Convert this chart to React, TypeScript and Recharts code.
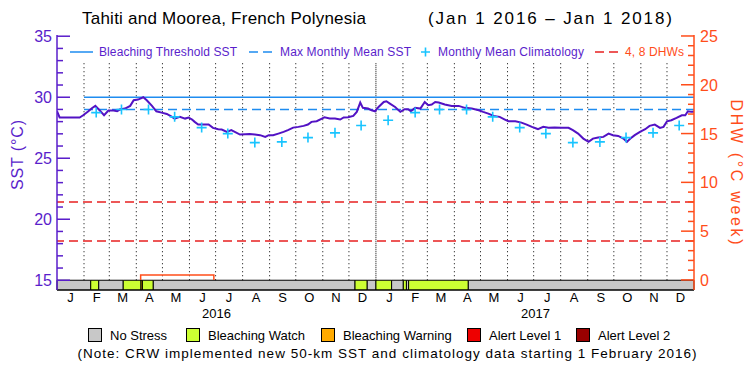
import React from 'react';
import {
  ComposedChart,
  Line,
  Scatter,
  XAxis,
  YAxis,
  ReferenceLine,
  ReferenceArea
} from 'recharts';

const FONT = '"Liberation Sans", Arial, sans-serif';
const PURPLE = '#5A1ECB';
const ORANGE = '#FF4D1A';
const SST_COLOR = '#5212C4';
const BLUE = '#1E8CF0';
const CYAN = '#18C4FF';
const RED = '#E82020';

// days since Jan 1 2016
const MONTH_LETTERS = ['J', 'F', 'M', 'A', 'M', 'J', 'J', 'A', 'S', 'O', 'N', 'D'];
const MONTH_STARTS = [
  0, 31, 60, 91, 121, 152, 182, 213, 244, 274, 305, 335,
  366, 397, 425, 456, 486, 517, 547, 578, 609, 639, 670, 700
];
const END_DAY = 731;
const YEAR_LABELS = ['2016', '2017'];
const YEAR_MIDS = [183, 549];

const SST_DAYS = [
  0, 3, 26, 30, 36, 40, 44, 48, 54, 59, 65, 69, 72, 78, 84, 88, 93, 99, 103, 109,
  114, 120, 126, 132, 135, 141, 147, 151, 155, 158, 162, 174, 179, 185, 189, 195, 200, 204, 210, 216,
  221, 227, 233, 239, 243, 248, 254, 260, 265, 271, 277, 283, 288, 292, 298, 304, 307, 313, 319, 325,
  329, 334, 340, 344, 348, 351, 357, 361, 365, 369, 375, 378, 382, 388, 394, 399, 403, 406, 411, 417,
  422, 426, 430, 434, 438, 445, 453, 461, 468, 476, 484, 489, 495, 501, 508, 514, 518, 526, 533, 539,
  545, 550, 552, 558, 564, 571, 579, 587, 592, 598, 604, 610, 615, 621, 627, 633, 638, 644, 650, 654,
  658, 663, 669, 675, 680, 686, 692, 696, 700, 705, 711, 717, 721, 724, 728, 731
];
const SST_VALUES = [
  28.85, 28.34, 28.34, 28.52, 28.85, 29.1, 29.29, 29.0, 28.52, 28.91, 28.91, 28.85, 28.99, 29.07, 29.29, 29.75, 29.81, 30.0, 29.75, 29.29,
  28.85, 28.74, 28.63, 28.39, 28.25, 28.39, 28.25, 28.34, 28.17, 27.98, 27.76, 27.76, 27.49, 27.38, 27.35, 27.16, 27.3, 27.16, 26.94, 26.97,
  26.99, 26.94, 26.89, 26.75, 26.89, 26.89, 27.02, 27.16, 27.3, 27.51, 27.57, 27.65, 27.76, 27.98, 28.03, 28.25, 28.36, 28.25, 28.25, 28.17,
  28.34, 28.36, 28.47, 28.8, 29.56, 29.13, 29.07, 28.93, 28.85, 29.2, 29.61, 29.67, 29.48, 29.2, 28.8, 29.02, 29.02, 28.85, 29.13, 29.07,
  29.61, 29.34, 29.4, 29.61, 29.56, 29.4, 29.29, 29.29, 29.13, 29.07, 28.93, 28.8, 28.66, 28.47, 28.39, 28.17, 28.03, 28.03, 27.92, 27.76,
  27.57, 27.44, 27.38, 27.57, 27.49, 27.51, 27.49, 27.49, 27.3, 27.02, 26.61, 26.34, 26.61, 26.69, 26.75, 27.02, 26.89, 26.83, 26.61, 26.34,
  26.61, 26.89, 27.16, 27.38, 27.65, 27.76, 27.49, 27.57, 28.03, 28.11, 28.3, 28.52, 28.52, 28.85, 28.8, 28.8
];

// monthly mean climatology, Jan..Dec
const CLIM_MONTHLY = [28.11, 28.74, 28.99, 28.99, 28.39, 27.51, 27.02, 26.28, 26.34, 26.69, 27.08, 27.68];
const MMM = 29.0;
const THRESHOLD = 30.0;
const DHW_LEVELS = [4, 8];
const DHW_DAYS = [96, 96, 180, 180];
const DHW_VALUES = [0, 0.5, 0.5, 0];

const STRESS_START = [0, 38.7, 47.9, 76, 96.4, 98, 110.5, 342, 356, 366, 384, 397.4, 401, 403.5, 472];
const STRESS_END = [38.7, 47.9, 76, 96.4, 98, 110.5, 342, 356, 366, 384, 397.4, 401, 403.5, 472, 731];
const STRESS_LEVEL = [0, 1, 0, 1, 2, 1, 0, 1, 0, 1, 0, 1, 0, 1, 0];
const STRESS_NAMES = ['No Stress', 'Bleaching Watch', 'Bleaching Warning', 'Alert Level 1', 'Alert Level 2'];
const STRESS_COLORS = ['#C8C8C8', '#CCFF33', '#FFAA00', '#EE0000', '#990000'];

const SST_TICKS = Array.from({ length: 21 }, (_, i) => 15 + i);
const DHW_TICKS = Array.from({ length: 26 }, (_, i) => i);

const sstData = SST_DAYS.map((day, i) => ({ day, sst: SST_VALUES[i] }));
const climData = MONTH_STARTS.slice(1).map((start, i) => ({ day: start + 14, clim: CLIM_MONTHLY[(i + 1) % 12] }));
const dhwData = DHW_DAYS.map((day, i) => ({ day, dhw: DHW_VALUES[i] }));
const monthMids = MONTH_STARTS.map((s, i) => (s + (MONTH_STARTS[i + 1] ?? END_DAY)) / 2);
const thresholdData = [{ day: MONTH_STARTS[1], v: THRESHOLD }, { day: END_DAY, v: THRESHOLD }];
const mmmData = [{ day: MONTH_STARTS[1], v: MMM }, { day: END_DAY, v: MMM }];

const LeftTick = (props: any) => {
  const { x, y, payload } = props;
  const major = payload.value % 5 === 0;
  return (
    <g>
      <line x1={x + 4} y1={y} x2={x + 4 + (major ? 13 : 6)} y2={y} stroke={PURPLE} strokeWidth={1.5} />
      {major && (
        <text x={x - 1} y={y} dy={6} textAnchor="end" fill={PURPLE} fontSize={16} fontFamily={FONT}>
          {payload.value}
        </text>
      )}
    </g>
  );
};

const RightTick = (props: any) => {
  const { x, y, payload } = props;
  const major = payload.value % 5 === 0;
  return (
    <g>
      <line x1={x - 4} y1={y} x2={x - 4 - (major ? 13 : 6)} y2={y} stroke={ORANGE} strokeWidth={1.5} />
      {major && (
        <text x={x + 2} y={y} dy={6} textAnchor="start" fill={ORANGE} fontSize={16} fontFamily={FONT}>
          {payload.value}
        </text>
      )}
    </g>
  );
};

const Cross = (props: any) => {
  const { cx, cy } = props;
  return <path d={`M${cx - 5},${cy}h10M${cx},${cy - 5}v10`} stroke={CYAN} strokeWidth={1.6} fill="none" />;
};

const Overlay = () => (
  <svg width={750} height={375} style={{ position: 'absolute', left: 0, top: 0, pointerEvents: 'none' }} fontFamily={FONT}>
    <text x={82} y={24} fontSize={17} textLength={284} fill="#000">Tahiti and Moorea, French Polynesia</text>
    <text x={428} y={24} fontSize={17} textLength={244} fill="#000">(Jan 1 2016 – Jan 1 2018)</text>

    <line x1={70} y1={52} x2={93} y2={52} stroke={BLUE} strokeWidth={1.5} />
    <text x={99} y={56} fontSize={12} fill={PURPLE} textLength={138}>Bleaching Threshold SST</text>
    <line x1={249} y1={52} x2={273} y2={52} stroke={BLUE} strokeWidth={1.5} strokeDasharray="9 5" />
    <text x={280} y={56} fontSize={12} fill={PURPLE} textLength={131}>Max Monthly Mean SST</text>
    <path d="M421,52h9M425.5,47.5v9" stroke={CYAN} strokeWidth={1.6} />
    <text x={438} y={56} fontSize={12} fill={PURPLE} textLength={146}>Monthly Mean Climatology</text>
    <line x1={595} y1={52} x2={619} y2={52} stroke={RED} strokeWidth={1.5} strokeDasharray="9 5" />
    <text x={625} y={56} fontSize={12} fill={ORANGE} textLength={59}>4, 8 DHWs</text>

    <text transform="translate(23,155) rotate(-90)" textAnchor="middle" fontSize={16} fill={PURPLE} textLength={70}>SST (°C)</text>
    <text transform="translate(731,172) rotate(90)" textAnchor="middle" fontSize={16} fill={ORANGE} textLength={145}>DHW (°C week)</text>

    {[88, 186, 321, 467, 576].map((bx, i) => (
      <g key={STRESS_NAMES[i]}>
        <rect x={bx + 0.5} y={328.5} width={13} height={13} fill={STRESS_COLORS[i]} stroke="#000" />
        <text x={bx + 22} y={340} fontSize={13} fill="#000">{STRESS_NAMES[i]}</text>
      </g>
    ))}
    <text x={387} y={358} fontSize={13.5} textAnchor="middle" textLength={619} fill="#000">
      (Note: CRW implemented new 50-km SST and climatology data starting 1 February 2016)
    </text>
  </svg>
);

export default function App() {
  return (
    <div style={{ position: 'absolute', left: 0, top: 0, width: 750, height: 375, background: '#fff' }}>
      <ComposedChart
        width={750}
        height={375}
        data={sstData}
        margin={{ top: 35, right: 16, bottom: 45, left: 17 }}
      >
        <XAxis
          dataKey="day"
          type="number"
          domain={[0, END_DAY]}
          allowDataOverflow
          ticks={monthMids}
          interval={0}
          tickFormatter={(v: number) => MONTH_LETTERS[monthMids.indexOf(v) % 12]}
          tickLine={false}
          tickSize={0}
          tickMargin={3}
          height={18}
          stroke="#000"
          tick={{ fill: '#000', fontSize: 13, fontFamily: FONT }}
        />
        <XAxis
          xAxisId="year"
          dataKey="day"
          type="number"
          domain={[0, END_DAY]}
          allowDataOverflow
          ticks={YEAR_MIDS}
          interval={0}
          tickFormatter={(v: number) => YEAR_LABELS[YEAR_MIDS.indexOf(v)]}
          axisLine={false}
          tickLine={false}
          tickSize={0}
          tickMargin={1}
          height={22}
          tick={{ fill: '#000', fontSize: 13, fontFamily: FONT }}
        />
        <XAxis
          xAxisId="top"
          orientation="top"
          dataKey="day"
          type="number"
          domain={[0, END_DAY]}
          allowDataOverflow
          height={0}
          tick={false}
          tickLine={false}
          stroke="#000"
        />
        <YAxis
          yAxisId="left"
          type="number"
          domain={[14.2, 35.1]}
          allowDataOverflow
          ticks={SST_TICKS}
          interval={0}
          width={40}
          stroke={PURPLE}
          strokeWidth={1.5}
          tickLine={false}
          tickSize={0}
          tickMargin={4}
          tick={<LeftTick />}
        />
        <YAxis
          yAxisId="right"
          orientation="right"
          type="number"
          domain={[-1.03, 25.1]}
          allowDataOverflow
          ticks={DHW_TICKS}
          interval={0}
          width={40}
          stroke={ORANGE}
          strokeWidth={1.5}
          tickLine={false}
          tickSize={0}
          tickMargin={4}
          tick={<RightTick />}
        />

        {MONTH_STARTS.slice(1).map((d) => (
          <ReferenceLine
            key={`m${d}`}
            yAxisId="left"
            segment={[{ x: d, y: 15 }, { x: d, y: 32.8 }]}
            stroke="#000"
            strokeDasharray={d === 366 ? '1 1' : '1 3'}
          />
        ))}
        {DHW_LEVELS.map((lv) => (
          <ReferenceLine key={`dhw${lv}`} yAxisId="right" y={lv} stroke={RED} strokeWidth={1.5} strokeDasharray="9 5" />
        ))}

        <Line yAxisId="left" data={thresholdData} dataKey="v" stroke={BLUE} strokeWidth={1.5} dot={false} isAnimationActive={false} />
        <Line yAxisId="left" data={mmmData} dataKey="v" stroke={BLUE} strokeWidth={1.5} strokeDasharray="9 5" dot={false} isAnimationActive={false} />
        <Scatter yAxisId="left" data={climData} dataKey="clim" shape={<Cross />} isAnimationActive={false} />
        <Line yAxisId="left" dataKey="sst" stroke={SST_COLOR} strokeWidth={2} dot={false} isAnimationActive={false} />

        {STRESS_START.map((s, i) => (
          <ReferenceArea
            key={`s${i}`}
            yAxisId="left"
            x1={s}
            x2={STRESS_END[i]}
            y1={14.2}
            y2={15}
            fill={STRESS_COLORS[STRESS_LEVEL[i]]}
            fillOpacity={1}
            stroke="#000"
            strokeWidth={1}
            ifOverflow="visible"
          />
        ))}
        <Line yAxisId="right" data={dhwData} dataKey="dhw" stroke={ORANGE} strokeWidth={1.5} dot={false} isAnimationActive={false} />
      </ComposedChart>
      <Overlay />
    </div>
  );
}
